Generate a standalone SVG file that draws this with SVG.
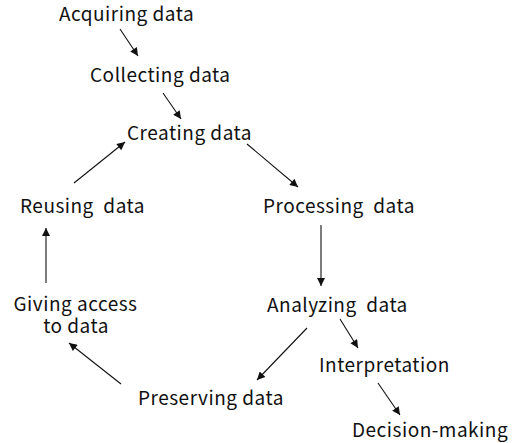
<svg xmlns="http://www.w3.org/2000/svg" width="512" height="443" viewBox="0 0 512 443">
<defs>
<marker id="ah" viewBox="0 0 10 10" refX="10" refY="5" markerWidth="10" markerHeight="8" markerUnits="userSpaceOnUse" orient="auto">
<path d="M0,0 L10,5 L0,10 z" fill="#111"/>
</marker>
<style>
text{font-family:"Noto Sans CJK JP","Noto Sans",sans-serif;font-size:19px;letter-spacing:0.5px;fill:#111;white-space:pre}
.c line{stroke:#111;stroke-width:1.1;marker-end:url(#ah)}
</style>
</defs>
<rect width="512" height="443" fill="#fff"/>
<g id="acquiring"><text x="59" y="21">Acquiring data</text></g>
<g id="collecting"><text x="90" y="82">Collecting data</text></g>
<g id="creating"><text x="127" y="140">Creating data</text></g>
<g id="reusing"><text x="20" y="213" xml:space="preserve">Reusing  data</text></g>
<g id="processing"><text x="263" y="213" xml:space="preserve">Processing  data</text></g>
<g id="giving"><text x="75.5" y="311" text-anchor="middle">Giving access</text><text x="76" y="333" text-anchor="middle">to data</text></g>
<g id="analyzing"><text x="267" y="312" xml:space="preserve">Analyzing  data</text></g>
<g id="interpretation"><text x="319" y="372">Interpretation</text></g>
<g id="preserving"><text x="138" y="405">Preserving data</text></g>
<g id="decision"><text x="352" y="437">Decision-making</text></g>
<g class="c" id="connectors">
<line x1="120" y1="29" x2="138" y2="56"/>
<line x1="163" y1="93" x2="181" y2="119"/>
<line x1="247" y1="144" x2="298" y2="187"/>
<line x1="321" y1="225" x2="321" y2="286"/>
<line x1="340" y1="319" x2="358" y2="348"/>
<line x1="378" y1="383" x2="400" y2="415"/>
<line x1="307" y1="328" x2="257" y2="380"/>
<line x1="121" y1="384" x2="69" y2="343"/>
<line x1="46" y1="283" x2="46" y2="228"/>
<line x1="74" y1="183" x2="125" y2="142"/>
</g>
</svg>
